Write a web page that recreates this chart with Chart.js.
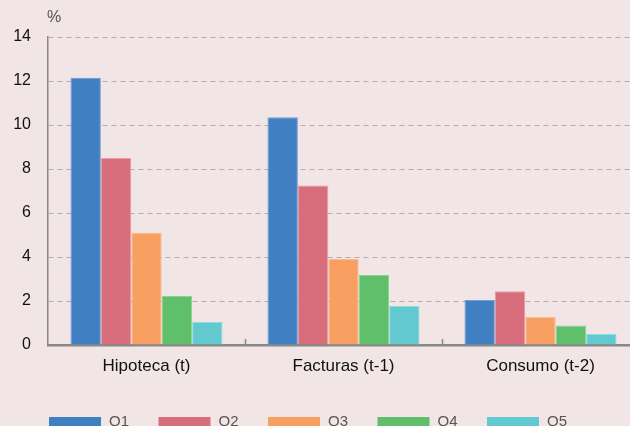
<!DOCTYPE html>
<html>
<head>
<meta charset="utf-8">
<script src="https://cdn.jsdelivr.net/npm/chart.js@4"></script>
<style>
  html, body { margin: 0; padding: 0; background: #f1e5e6; overflow: hidden; }
  #clip { width: 630px; height: 426px; overflow: hidden; position: relative; }
  #wrap { width: 640px; height: 440px; position: absolute; left: 0; top: 0; }
</style>
</head>
<body>
<div id="clip"><div id="wrap"><canvas id="barChart"></canvas></div></div>
<script>
// Data
const categories = ["Hipoteca (t)", "Facturas (t-1)", "Consumo (t-2)"];
const seriesNames = ["Q1", "Q2", "Q3", "Q4", "Q5"];
const q1 = [12.15, 10.35, 2.05];
const q2 = [8.5, 7.25, 2.44];
const q3 = [5.1, 3.92, 1.27];
const q4 = [2.23, 3.18, 0.89];
const q5 = [1.05, 1.77, 0.5];
const yTicks = [0, 2, 4, 6, 8, 10, 12, 14];

const seriesData = [q1, q2, q3, q4, q5];
const colors = ["#3f7fc2", "#d86e7c", "#f8a062", "#5fbf6a", "#63c9d0"];
const borders = ["#6f9fd4", "#e89aa4", "#fbbd90", "#8bd294", "#8edbe0"];

const FONT = "'Liberation Sans', Arial, sans-serif";

// small ticks between categories, "%" label and legend
const extras = {
  id: "extras",
  afterDraw(chart) {
    const ctx = chart.ctx;
    const area = chart.chartArea;
    const x = chart.scales.x;
    const step = x.width / categories.length;
    ctx.save();
    ctx.strokeStyle = "#888";
    ctx.lineWidth = 1.5;
    for (let i = 1; i < categories.length; i++) {
      const px = Math.round(area.left + step * i) + 0.5;
      ctx.beginPath();
      ctx.moveTo(px, area.bottom);
      ctx.lineTo(px, area.bottom - 6);
      ctx.stroke();
    }
    ctx.fillStyle = "#555";
    ctx.font = "16px " + FONT;
    ctx.textBaseline = "middle";
    ctx.textAlign = "left";
    ctx.fillText("%", area.left - 1, 18);

    // legend
    chart.data.datasets.forEach((ds, i) => {
      const lx = 49 + i * 109.5;
      ctx.fillStyle = ds.backgroundColor;
      ctx.fillRect(lx, 417, 52, 12);
      ctx.fillStyle = "#555";
      ctx.font = "15px " + FONT;
      ctx.textBaseline = "top";
      ctx.fillText(ds.label, lx + 60, 414);
    });
    ctx.restore();
  },
};

const ctx = document.getElementById("barChart").getContext("2d");

new Chart(ctx, {
  type: "bar",
  data: {
    labels: categories,
    datasets: seriesNames.map((name, i) => ({
      label: name,
      data: seriesData[i],
      backgroundColor: colors[i],
      borderColor: borders[i],
      borderWidth: 1,
      categoryPercentage: 0.772,
      barPercentage: 1,
    })),
  },
  options: {
    responsive: true,
    maintainAspectRatio: false,
    animation: false,
    layout: { padding: { top: 37, right: 1, left: 0, bottom: 0 } },
    plugins: {
      legend: { display: false },
      title: { display: false },
      tooltip: { enabled: false },
    },
    scales: {
      x: {
        offset: true,
        grid: { display: false, drawTicks: false },
        border: { display: true, color: "#888", width: 2.5 },
        ticks: {
          padding: 11,
          color: "#111",
          font: { family: FONT, size: 17 },
          maxRotation: 0,
        },
        afterFit: (scale) => { scale.width; scale.height = 95; },
      },
      y: {
        min: 0,
        max: 14,
        afterBuildTicks: (scale) => {
          scale.ticks = yTicks.map((v) => ({ value: v }));
        },
        grid: {
          color: (c) => (c.tick && c.tick.value === 0 ? "rgba(0,0,0,0)" : "#b3adad"),
          lineWidth: 1,
          drawTicks: false,
        },
        border: { display: true, color: "#888", width: 1.5, dash: [5, 4] },
        ticks: {
          padding: 17,
          color: "#111",
          font: { family: FONT, size: 16 },
        },
        afterFit: (scale) => { scale.width = 48; },
      },
    },
  },
  plugins: [extras],
});
</script>
</body>
</html>
